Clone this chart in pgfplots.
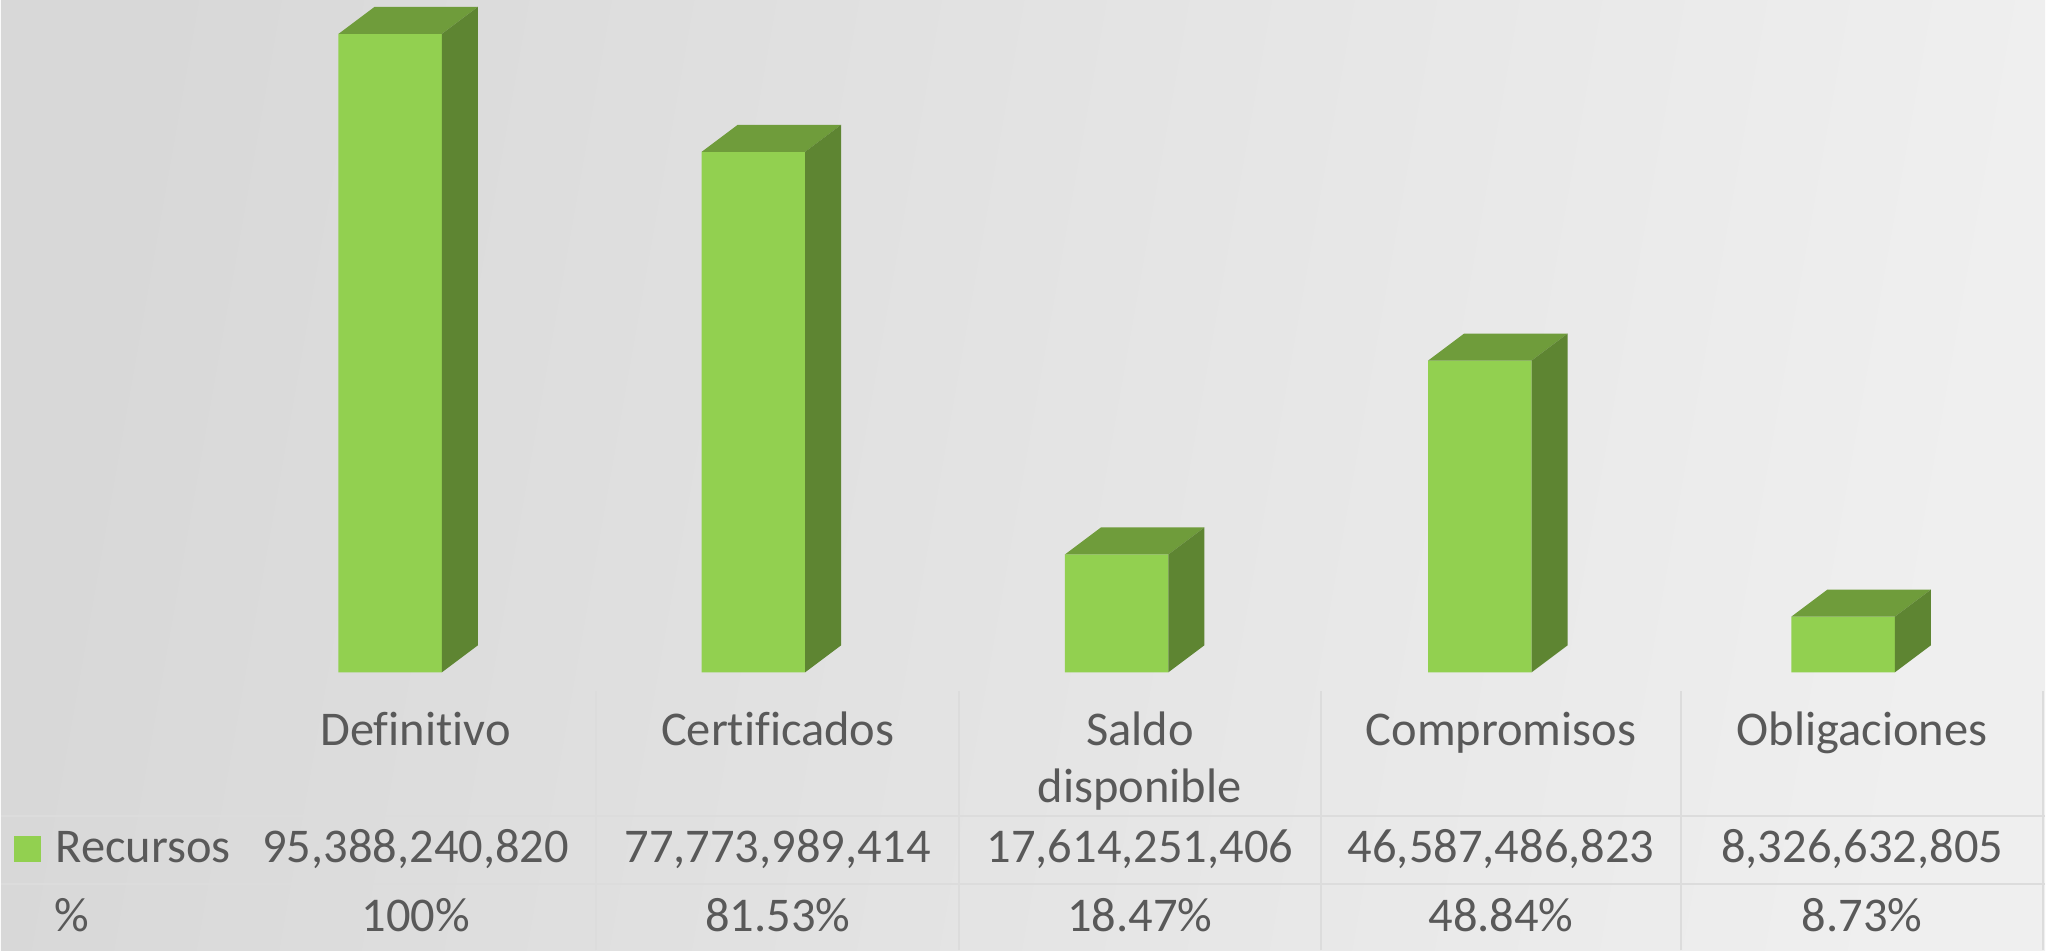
\documentclass[border=0pt]{standalone}
\usepackage{pgfplots}
\pgfplotsset{compat=1.18}
\usepackage{fontspec}
\setmainfont{Carlito}[Ligatures=NoCommon]
\definecolor{frontc}{HTML}{92D050}
\definecolor{topc}{HTML}{6F9C3B}
\definecolor{sidec}{HTML}{5E8532}
\definecolor{txt}{HTML}{595959}
\definecolor{gridc}{HTML}{DCDCDC}
\definecolor{bgL}{HTML}{D8D8D8}
\definecolor{bgR}{HTML}{EFEFEF}
\pgfplotstableread{
x y
0 95.388240820
1 77.773989414
2 17.614251406
3 46.587486823
4 8.326632805
}\datatab
\begin{document}
\begin{tikzpicture}[x=1mm,y=1mm]
\shade[left color=bgL, right color=bgR, shading angle=80] (0,0) rectangle (204.6,95.1);
\begin{axis}[
  at={(0,0)}, anchor=south west,
  x=36.36mm, y=0.6699mm,
  xmin=-1.0712, xmax=4.5558,
  ymin=-41.50, ymax=100.46,
  hide axis, clip=false,
]
\addplot[ybar, bar width=0.2847, fill=frontc, draw=none] table[x=x,y=y] {\datatab};
\addplot[scatter, only marks, mark=none,
  visualization depends on={rawy \as \rawy},
  scatter/@pre marker code/.code={%
    \pgfmathsetmacro\hh{\rawy*0.6699}%
    \pgfpathmoveto{\pgfpoint{-5.175mm}{0mm}}%
    \pgfpathlineto{\pgfpoint{5.175mm}{0mm}}%
    \pgfpathlineto{\pgfpoint{8.775mm}{2.7mm}}%
    \pgfpathlineto{\pgfpoint{-1.575mm}{2.7mm}}%
    \pgfpathclose
    \pgfsetfillcolor{topc}\pgfusepath{fill}%
    \pgfpathmoveto{\pgfpoint{5.175mm}{0mm}}%
    \pgfpathlineto{\pgfpoint{5.175mm}{-\hh mm}}%
    \pgfpathlineto{\pgfpoint{8.775mm}{-\hh mm+2.7mm}}%
    \pgfpathlineto{\pgfpoint{8.775mm}{2.7mm}}%
    \pgfpathclose
    \pgfsetfillcolor{sidec}\pgfusepath{fill}%
  },
  scatter/@post marker code/.code={},
] table[x=x,y=y] {\datatab};
\end{axis}
% table grid
\begin{scope}[line width=0.2mm, gridc]
\foreach \xx in {59.6,95.9,132.1,168.2,204.4} \draw (\xx,0) -- (\xx,25.9);
\draw (0,13.4) -- (204.6,13.4);
\draw (0,6.6) -- (204.6,6.6);
\end{scope}
\begin{scope}[every node/.style={text=txt, font=\fontsize{13.8}{16}\selectfont, inner sep=0pt, anchor=base}]
\node at (41.5,20.5) {Definitivo};
\node at (77.75,20.5) {Certificados};
\node at (114.0,20.5) {Saldo};
\node at (114.0,14.8) {disponible};
\node at (150.15,20.5) {Compromisos};
\node at (186.3,20.5) {Obligaciones};
\node[anchor=base west] at (5.4,8.8) {Recursos};
\node at (41.5,8.8) {95,388,240,820};
\node at (77.75,8.8) {77,773,989,414};
\node at (114.0,8.8) {17,614,251,406};
\node at (150.15,8.8) {46,587,486,823};
\node at (186.3,8.8) {8,326,632,805};
\node[anchor=base west] at (5.3,1.9) {\%};
\node at (41.5,1.9) {100\%};
\node at (77.75,1.9) {81.53\%};
\node at (114.0,1.9) {18.47\%};
\node at (150.15,1.9) {48.84\%};
\node at (186.3,1.9) {8.73\%};
\end{scope}
\fill[frontc] (1.3,8.8) rectangle (4.0,11.4);
\end{tikzpicture}
\end{document}
